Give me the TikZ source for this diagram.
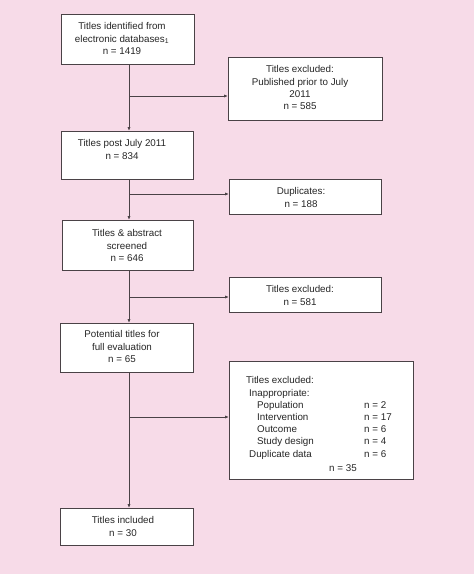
\documentclass[tikz,border=0pt]{standalone}
\usepackage{fontspec}
\setmainfont{Liberation Sans}
\usetikzlibrary{arrows.meta}
\definecolor{bgpink}{HTML}{F7DBE8}
\definecolor{ink}{HTML}{4A4246}
\begin{document}
\begin{tikzpicture}[x=1pt,y=-1pt,
 box/.style={draw=ink,line width=0.9pt,fill=white,inner sep=0pt,anchor=north west},
 txt/.style={inner sep=0pt,anchor=north,align=center,font=\fontsize{9.8}{12.2}\selectfont,text=black!85},
 conn/.style={draw=ink,line width=0.8pt},
 arr/.style={conn,-{Latex[length=4pt,width=3.2pt]}}]
\fill[bgpink] (0,0) rectangle (474,574);
\useasboundingbox (0,0) rectangle (474,574);
% boxes
\node[box,minimum width=133pt,minimum height=50pt] (b1) at (61,14) {};
\node[box,minimum width=154pt,minimum height=63pt] (b2) at (228,57) {};
\node[box,minimum width=132pt,minimum height=48pt] (b3) at (61,131) {};
\node[box,minimum width=152pt,minimum height=35pt] (b4) at (229,179) {};
\node[box,minimum width=131pt,minimum height=50pt] (b5) at (62,220) {};
\node[box,minimum width=152pt,minimum height=35pt] (b6) at (229,277) {};
\node[box,minimum width=133pt,minimum height=49pt] (b7) at (60,323) {};
\node[box,minimum width=184pt,minimum height=118pt] (b8) at (229,361) {};
\node[box,minimum width=133pt,minimum height=37pt] (b9) at (60,508) {};
% texts
\node[txt] (t1) at (122,22.5) {Titles identified from\\electronic databases\textsubscript{1}\\n = 1419};
\node[txt] (t2) at (300,65.5) {Titles excluded:\\Published prior to July\\2011\\n = 585};
\node[txt] (t3) at (122,139.5) {Titles post July 2011\\n = 834};
\node[txt] (t4) at (301,187.5) {Duplicates:\\n = 188};
\node[txt] (t5) at (127,229.5) {Titles \& abstract\\screened\\n = 646};
\node[txt] (t6) at (300,285.5) {Titles excluded:\\n = 581};
\node[txt] (t7) at (122,330.5) {Potential titles for\\full evaluation\\n = 65};
\node[txt,anchor=north west,align=left] (t8) at (246,376.5) {Titles excluded:\\
\hspace*{3pt}Inappropriate:\\
\hspace*{11pt}\makebox[107pt][l]{Population}n = 2\\
\hspace*{11pt}\makebox[107pt][l]{Intervention}n = 17\\
\hspace*{11pt}\makebox[107pt][l]{Outcome}n = 6\\
\hspace*{11pt}\makebox[107pt][l]{Study design}n = 4\\
\hspace*{3pt}\makebox[115pt][l]{Duplicate data}n = 6\\[2pt]
\hspace*{83pt}n = 35};
\node[txt] (t9) at (123,516.5) {Titles included\\n = 30};
% junctions on the trunk
\coordinate (j1) at (129,96);
\coordinate (j2) at (129,194);
\coordinate (j3) at (129,297);
\coordinate (j4) at (129,417);
% connectors
\draw[arr] (b1.south -| j1) -- (b3.north -| j1);
\draw[arr] (j1) -- (j1 -| b2.west);
\draw[arr] (b3.south -| j2) -- (b5.north -| j2);
\draw[arr] (j2) -- (j2 -| b4.west);
\draw[arr] (b5.south -| j3) -- (b7.north -| j3);
\draw[arr] (j3) -- (j3 -| b6.west);
\draw[arr] (b7.south -| j4) -- (b9.north -| j4);
\draw[arr] (j4) -- (j4 -| b8.west);
\end{tikzpicture}
\end{document}
